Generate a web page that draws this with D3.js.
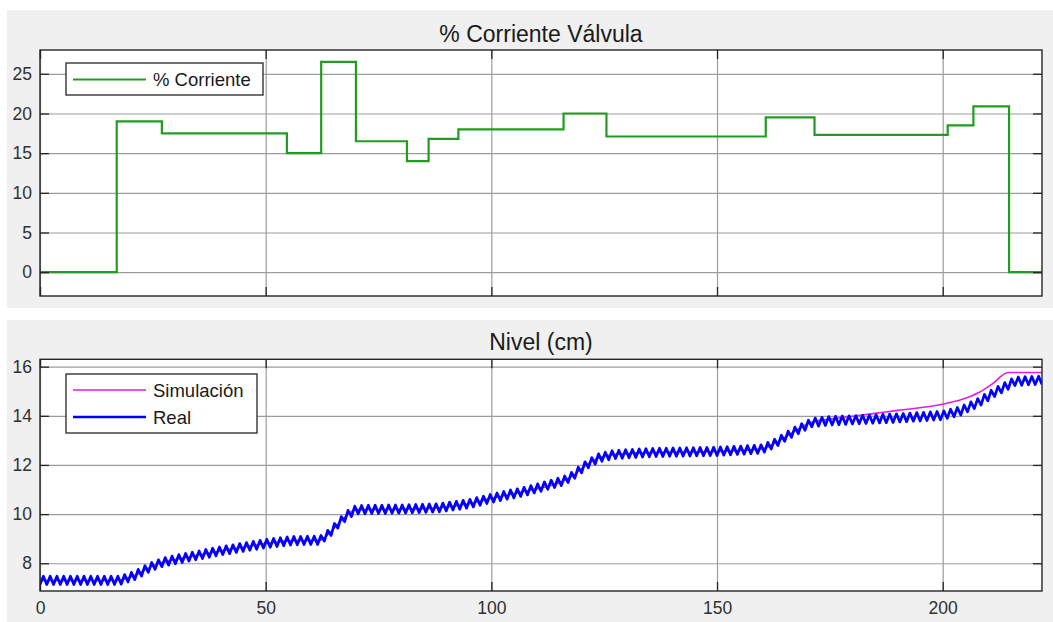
<!DOCTYPE html>
<html>
<head>
<meta charset="utf-8">
<script src="https://cdn.jsdelivr.net/npm/d3@7"></script>
<style>
  body { margin: 0; background: #fff; }
  text { font-family: "Liberation Sans", Arial, sans-serif; }
</style>
</head>
<body>
<div id="chart"></div>
<script>
// Tick values
var xTicks = [0, 50, 100, 150, 200];
var currentTicks = [0, 5, 10, 15, 20, 25];
var levelTicks = [8, 10, 12, 14, 16];

// % Corriente (step function: value holds from each time until the next)
var currentT = [0, 17, 27, 54.7, 62.3, 70, 81.3, 86.1, 92.7, 116, 125.5, 160.8, 171.6, 201.1, 206.8, 214.7, 222];
var currentV = [0, 19, 17.5, 15, 26.5, 16.5, 14, 16.8, 18, 20, 17.1, 19.5, 17.3, 18.5, 20.9, 0, 0];

// Nivel - Simulación
var simT = [0, 17, 18, 21, 24, 27, 30, 40, 50, 56, 62, 64, 66, 68, 70, 80, 88, 95, 100, 108, 116, 118, 121, 124, 127,
            135, 150, 160, 163, 167, 171, 175, 180, 185, 190, 200, 204, 208, 211, 214.5, 222];
var simV = [7.30, 7.30, 7.32, 7.50, 7.80, 8.03, 8.15, 8.50, 8.80, 8.92, 8.93, 9.20, 9.60, 9.95, 10.18, 10.20, 10.25, 10.42, 10.64, 10.95, 11.35, 11.55, 12.00, 12.30, 12.42,
            12.50, 12.55, 12.65, 12.90, 13.35, 13.75, 13.86, 13.98, 14.10, 14.22, 14.47, 14.65, 14.95, 15.30, 15.76, 15.76];

// Nivel - Real (sampled every 0.75 s)
var realDt = 0.75;
var realV = [
  7.13,7.47,7.13,7.47,7.13,7.47,7.13,7.47,7.13,7.47,
  7.13,7.47,7.13,7.47,7.13,7.47,7.13,7.47,7.13,7.47,
  7.13,7.47,7.13,7.47,7.15,7.54,7.24,7.63,7.33,7.75,
  7.48,7.90,7.63,8.03,7.75,8.14,7.86,8.23,7.92,8.29,
  7.98,8.35,8.03,8.40,8.09,8.45,8.14,8.50,8.19,8.56,
  8.24,8.61,8.30,8.66,8.35,8.71,8.39,8.75,8.44,8.80,
  8.48,8.84,8.53,8.89,8.57,8.93,8.62,8.98,8.65,9.01,
  8.68,9.04,8.71,9.07,8.74,9.09,8.75,9.09,8.76,9.10,
  8.76,9.10,8.76,9.13,8.90,9.34,9.13,9.62,9.43,9.90,
  9.69,10.15,9.90,10.32,10.01,10.35,10.01,10.36,10.02,10.36,
  10.02,10.36,10.02,10.37,10.03,10.37,10.03,10.37,10.04,10.38,
  10.05,10.39,10.06,10.40,10.07,10.41,10.08,10.42,10.09,10.45,
  10.13,10.49,10.17,10.52,10.20,10.56,10.24,10.60,10.29,10.67,
  10.36,10.73,10.43,10.80,10.49,10.86,10.55,10.92,10.61,10.98,
  10.66,11.03,10.72,11.09,10.78,11.16,10.86,11.23,10.93,11.31,
  11.01,11.38,11.08,11.46,11.16,11.55,11.28,11.70,11.46,11.91,
  11.68,12.13,11.88,12.30,12.03,12.45,12.15,12.52,12.21,12.58,
  12.26,12.60,12.27,12.62,12.29,12.63,12.30,12.65,12.32,12.66,
  12.33,12.67,12.34,12.68,12.34,12.68,12.35,12.69,12.35,12.69,
  12.36,12.70,12.36,12.70,12.37,12.71,12.37,12.71,12.38,12.72,
  12.38,12.73,12.40,12.74,12.41,12.76,12.43,12.77,12.44,12.79,
  12.46,12.80,12.47,12.82,12.52,12.92,12.65,13.05,12.79,13.21,
  12.96,13.38,13.12,13.54,13.27,13.68,13.41,13.82,13.55,13.91,
  13.58,13.94,13.61,13.97,13.63,13.98,13.64,13.99,13.65,14.00,
  13.67,14.01,13.68,14.02,13.69,14.03,13.70,14.04,13.71,14.06,
  13.72,14.07,13.73,14.08,13.75,14.09,13.76,14.11,13.78,14.13,
  13.79,14.14,13.81,14.16,13.83,14.18,13.84,14.20,13.90,14.27,
  13.96,14.34,14.03,14.44,14.16,14.57,14.29,14.70,14.44,14.87,
  14.61,15.04,14.78,15.20,14.93,15.35,15.08,15.50,15.23,15.58,
  15.24,15.59,15.26,15.60,15.27,15.61,15.28
];

var svg = d3.select("#chart")
  .append("svg")
    .attr("width", 1053)
    .attr("height", 622);

// Figure backgrounds (two stacked figures)
svg.append("rect").attr("x", 7).attr("y", 10).attr("width", 1046).attr("height", 298).attr("fill", "#f0f0f0");
svg.append("rect").attr("x", 7).attr("y", 320).attr("width", 1046).attr("height", 302).attr("fill", "#f0f0f0");

var left = 40, right = 1042;

// Draw one axes box with grid and title; returns scales
function drawPanel(top, bottom, yDomain, yTicks, showXLabels, title, titleY, clipId) {
  var w = right - left, h = bottom - top;
  var x = d3.scaleLinear().domain([0, 222]).range([left, right]);
  var y = d3.scaleLinear().domain(yDomain).range([bottom, top]);

  svg.append("rect")
    .attr("x", left).attr("y", top).attr("width", w).attr("height", h)
    .attr("fill", "#fff");

  // grid
  var gx = svg.append("g")
    .attr("transform", "translate(0," + top + ")")
    .call(d3.axisBottom(x).tickValues(xTicks).tickSize(h).tickFormat(""));
  var gy = svg.append("g")
    .attr("transform", "translate(" + left + ",0)")
    .call(d3.axisLeft(y).tickValues(yTicks).tickSize(-w).tickFormat(""));
  [gx, gy].forEach(function(g) {
    g.select(".domain").remove();
    g.selectAll("line").attr("stroke", "#9c9c9c").attr("stroke-width", 1.2);
  });

  svg.append("defs").append("clipPath").attr("id", clipId)
    .append("rect").attr("x", left).attr("y", top).attr("width", w).attr("height", h);

  // title
  svg.append("text")
    .attr("x", (left + right) / 2)
    .attr("y", titleY)
    .attr("text-anchor", "middle")
    .attr("font-size", "23px")
    .attr("fill", "#1a1a1a")
    .text(title);

  return {x: x, y: y, top: top, bottom: bottom, w: w, h: h, clipId: clipId, showXLabels: showXLabels, yTicks: yTicks};
}

// Box and inward ticks, drawn after data
function drawFrame(p) {
  var tickStyle = function(g) {
    g.select(".domain").remove();
    g.selectAll("line").attr("stroke", "#262626").attr("stroke-width", 1.3);
    g.selectAll("text").attr("fill", "#303030").attr("font-size", "17.5px")
      .attr("font-family", "'Liberation Sans', Arial, sans-serif");
  };
  svg.append("g").attr("transform", "translate(0," + p.bottom + ")")
    .call(d3.axisBottom(p.x).tickValues(xTicks).tickSizeInner(-9).tickSizeOuter(0).tickPadding(11)
      .tickFormat(p.showXLabels ? d3.format("d") : ""))
    .call(tickStyle);
  svg.append("g").attr("transform", "translate(0," + p.top + ")")
    .call(d3.axisTop(p.x).tickValues(xTicks).tickSizeInner(-9).tickSizeOuter(0).tickFormat(""))
    .call(tickStyle);
  svg.append("g").attr("transform", "translate(" + left + ",0)")
    .call(d3.axisLeft(p.y).tickValues(p.yTicks).tickSizeInner(-9).tickSizeOuter(0).tickPadding(8))
    .call(tickStyle);
  svg.append("g").attr("transform", "translate(" + right + ",0)")
    .call(d3.axisRight(p.y).tickValues(p.yTicks).tickSizeInner(-9).tickSizeOuter(0).tickFormat(""))
    .call(tickStyle);

  svg.append("rect")
    .attr("x", left).attr("y", p.top).attr("width", p.w).attr("height", p.h)
    .attr("fill", "none").attr("stroke", "#262626").attr("stroke-width", 1.4);
}

function drawLegend(x0, y0, w, h, items) {
  svg.append("rect").attr("x", x0).attr("y", y0).attr("width", w).attr("height", h)
    .attr("fill", "#fff").attr("stroke", "#262626").attr("stroke-width", 1.3);
  items.forEach(function(it) {
    svg.append("line")
      .attr("x1", x0 + 7).attr("x2", x0 + 80)
      .attr("y1", it.y).attr("y2", it.y)
      .attr("stroke", it.color).attr("stroke-width", it.width);
    svg.append("text")
      .attr("x", x0 + 87).attr("y", it.y + 6.5)
      .attr("font-size", "18.5px")
      .attr("fill", "#1a1a1a")
      .text(it.label);
  });
}

// ---- Top panel: % Corriente Válvula
var p1 = drawPanel(50, 296, [-3, 28], currentTicks, false, "% Corriente Válvula", 41.5, "clip1");

var currentData = currentT.map(function(t, i) { return {t: t, v: currentV[i]}; });
svg.append("path")
  .datum(currentData)
  .attr("clip-path", "url(#clip1)")
  .attr("fill", "none")
  .attr("stroke", "#239b23")
  .attr("stroke-width", 2.2)
  .attr("d", d3.line().curve(d3.curveStepAfter)
    .x(function(d) { return p1.x(d.t); })
    .y(function(d) { return p1.y(d.v); }));

drawFrame(p1);
drawLegend(66, 63, 197, 32, [{label: "% Corriente", color: "#239b23", width: 2.2, y: 79.5}]);

// ---- Bottom panel: Nivel (cm)
var p2 = drawPanel(359.3, 591, [6.87, 16.3], levelTicks, true, "Nivel (cm)", 349.5, "clip2");

var simData = simT.map(function(t, i) { return {t: t, v: simV[i]}; });
svg.append("path")
  .datum(simData)
  .attr("clip-path", "url(#clip2)")
  .attr("fill", "none")
  .attr("stroke", "#e01ee0")
  .attr("stroke-width", 1.6)
  .attr("d", d3.line().curve(d3.curveMonotoneX)
    .x(function(d) { return p2.x(d.t); })
    .y(function(d) { return p2.y(d.v); }));

var realData = realV.map(function(v, i) { return {t: i * realDt, v: v}; });
svg.append("path")
  .datum(realData)
  .attr("clip-path", "url(#clip2)")
  .attr("fill", "none")
  .attr("stroke", "#0000ff")
  .attr("stroke-width", 2.7)
  .attr("stroke-linejoin", "round")
  .attr("d", d3.line()
    .x(function(d) { return p2.x(d.t); })
    .y(function(d) { return p2.y(d.v); }));

drawFrame(p2);
drawLegend(66, 374, 191, 59, [
  {label: "Simulación", color: "#e01ee0", width: 1.6, y: 390},
  {label: "Real", color: "#0000ff", width: 2.7, y: 417}
]);
</script>
</body>
</html>
